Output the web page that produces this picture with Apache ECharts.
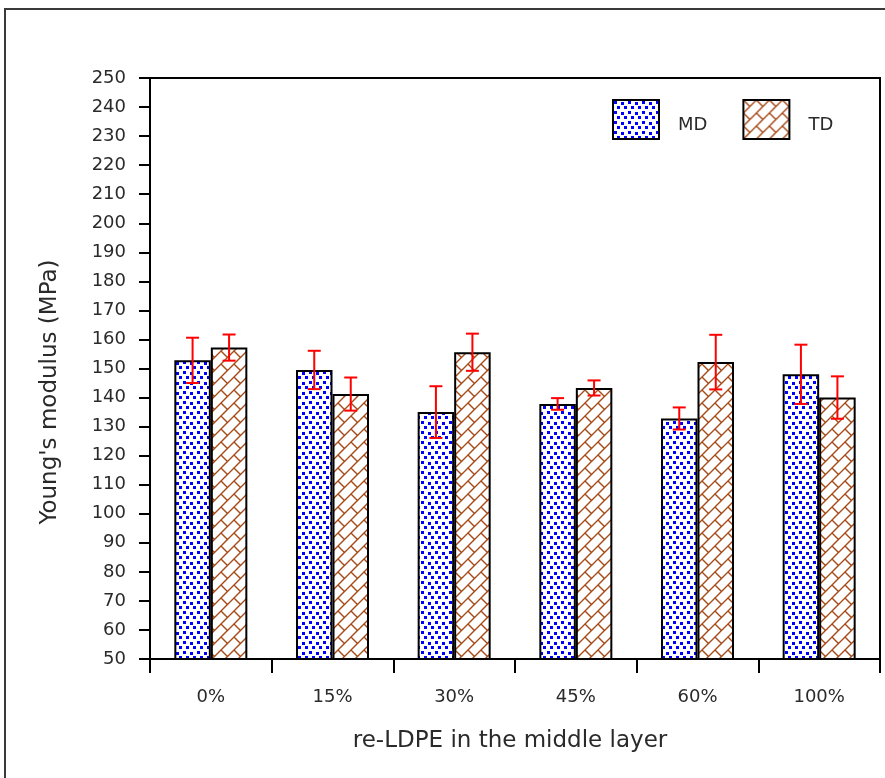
<!DOCTYPE html>
<html>
<head>
<meta charset="utf-8">
<script src="https://cdn.jsdelivr.net/npm/echarts@6/dist/echarts.min.js"></script>
<style>
  html, body { margin: 0; padding: 0; background: #fff; }
  #chart { width: 885px; height: 778px; }
</style>
</head>
<body>
<div id="chart"></div>
<script>
// re-LDPE content of the middle layer
const categories = ['0%', '15%', '30%', '45%', '60%', '100%'];
// Young's modulus, machine direction (MPa) and standard deviation
const mdValues = [152.8, 149.5, 135.0, 137.8, 132.8, 148.0];
const mdErrors = [7.8, 6.6, 8.9, 2.0, 3.8, 10.2];
// Young's modulus, transverse direction (MPa) and standard deviation
const tdValues = [157.2, 141.2, 155.6, 143.3, 152.2, 140.0];
const tdErrors = [4.5, 5.7, 6.4, 2.6, 9.4, 7.3];
const yTicks = { min: 50, max: 250, interval: 10 };

const FONT = '"DejaVu Sans", Verdana, sans-serif';
const TEXT_COLOR = '#2a2a2a';

// Blue dotted fill: staggered small squares
function makeDotPattern() {
  const w = 14, h = 10;
  const c = document.createElement('canvas');
  c.width = w; c.height = h;
  const g = c.getContext('2d');
  g.fillStyle = '#ffffff';
  g.fillRect(0, 0, w, h);
  g.fillStyle = '#0000ff';
  g.fillRect(1, 1, 3, 3);
  g.fillRect(8, 2, 3, 3);
  g.fillRect(4, 6, 3, 3);
  g.fillRect(11, 6, 3, 3);
  return c;
}

// Brown diagonal brick fill
function makeBrickPattern() {
  const s = 13;
  const c = document.createElement('canvas');
  c.width = s; c.height = s;
  const g = c.getContext('2d');
  g.fillStyle = '#ffffff';
  g.fillRect(0, 0, s, s);
  g.strokeStyle = '#a84a18';
  g.lineWidth = 1.4;
  g.beginPath();
  g.moveTo(-2, s + 2); g.lineTo(s + 2, -2);
  g.moveTo(-2, 2); g.lineTo(2, -2);
  g.moveTo(s - 2, s + 2); g.lineTo(s + 2, s - 2);
  g.moveTo(0, 0); g.lineTo(s / 2, s / 2);
  g.stroke();
  return c;
}

const mdFill = { image: makeDotPattern(), repeat: 'repeat' };
const tdFill = { image: makeBrickPattern(), repeat: 'repeat' };

const BAR_FRACTION = 0.3;

function errorRenderer(side) {
  return function (params, api) {
    const idx = api.value(0);
    const mean = api.value(1);
    const err = api.value(2);
    const band = api.size([1, 0])[0];
    const dx = side * band * BAR_FRACTION / 2;
    const hi = api.coord([idx, mean + err]);
    const lo = api.coord([idx, mean - err]);
    const x = hi[0] + dx;
    const cap = 6.5;
    const style = { stroke: '#ff0000', lineWidth: 2 };
    return {
      type: 'group',
      children: [
        { type: 'line', shape: { x1: x, y1: hi[1], x2: x, y2: lo[1] }, style },
        { type: 'line', shape: { x1: x - cap, y1: hi[1], x2: x + cap, y2: hi[1] }, style },
        { type: 'line', shape: { x1: x - cap, y1: lo[1], x2: x + cap, y2: lo[1] }, style }
      ]
    };
  };
}

const chart = echarts.init(document.getElementById('chart'), null, { renderer: 'canvas' });

chart.setOption({
  animation: false,
  backgroundColor: '#ffffff',
  textStyle: { fontFamily: FONT },
  grid: {
    left: 150, top: 78, right: 5, bottom: 119,
    show: true, borderColor: '#000', borderWidth: 2, backgroundColor: 'transparent'
  },
  graphic: [
    {
      type: 'rect', silent: true, z: -1,
      shape: { x: 5, y: 9, width: 900, height: 800 },
      style: { fill: 'none', stroke: '#3a3a3a', lineWidth: 2 }
    },
    {
      type: 'text', x: 50, y: 392, rotation: Math.PI / 2,
      style: {
        text: "Young's modulus (MPa)", font: '23px ' + FONT, fill: TEXT_COLOR,
        align: 'center', verticalAlign: 'middle'
      }
    },
    {
      type: 'text', x: 510, y: 741,
      style: {
        text: 're-LDPE in the middle layer', font: '23px ' + FONT, fill: TEXT_COLOR,
        align: 'center', verticalAlign: 'middle'
      }
    }
  ],
  legend: {
    data: ['MD', 'TD'],
    left: 612, top: 99, padding: 0,
    itemWidth: 46, itemHeight: 39,
    itemGap: 35,
    icon: 'rect',
    // label sits a little below the swatch centre
    formatter: function (name) { return '\n' + name; },
    textStyle: {
      fontSize: 18, lineHeight: 12, color: TEXT_COLOR, fontFamily: FONT,
      padding: [0, 0, 0, 14]
    }
  },
  xAxis: {
    type: 'category',
    data: categories,
    axisLine: { lineStyle: { color: '#000', width: 2 } },
    axisTick: { show: true, length: 14, lineStyle: { color: '#000', width: 2 } },
    axisLabel: { fontSize: 18, color: TEXT_COLOR, margin: 29, fontFamily: FONT }
  },
  yAxis: {
    type: 'value',
    min: yTicks.min, max: yTicks.max, interval: yTicks.interval,
    splitLine: { show: false },
    axisLine: { show: true, lineStyle: { color: '#000', width: 2 } },
    axisTick: { show: true, length: 11, lineStyle: { color: '#000', width: 2 } },
    axisLabel: { fontSize: 18, color: TEXT_COLOR, margin: 24, fontFamily: FONT }
  },
  series: [
    {
      name: 'MD', type: 'bar', data: mdValues,
      barWidth: (BAR_FRACTION * 100) + '%', barGap: '0%',
      itemStyle: { color: mdFill, borderColor: '#000', borderWidth: 2 },
      z: 2
    },
    {
      name: 'TD', type: 'bar', data: tdValues,
      barWidth: (BAR_FRACTION * 100) + '%', barGap: '0%',
      itemStyle: { color: tdFill, borderColor: '#000', borderWidth: 2 },
      z: 2
    },
    {
      name: 'MD error', type: 'custom', z: 5,
      renderItem: errorRenderer(-1),
      encode: { x: 0, y: 1 },
      data: mdValues.map((v, i) => [i, v, mdErrors[i]])
    },
    {
      name: 'TD error', type: 'custom', z: 5,
      renderItem: errorRenderer(1),
      encode: { x: 0, y: 1 },
      data: tdValues.map((v, i) => [i, v, tdErrors[i]])
    }
  ]
});
</script>
</body>
</html>
